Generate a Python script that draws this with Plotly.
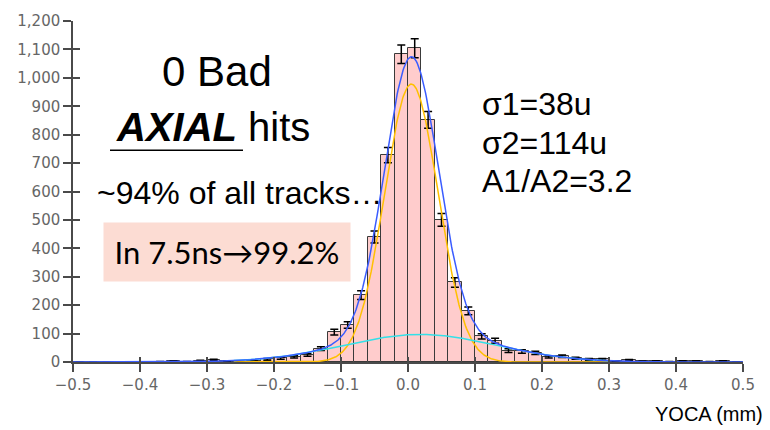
import numpy as np
import plotly.graph_objects as go

# ---------------- data ----------------
bin_width = 0.02
bin_left_edges = np.round(np.arange(-0.50, 0.50, 0.02), 2)
counts = [0, 0, 0, 0, 0, 0, 1, 3, 1, 4,
          7, 3, 1, 2, 9, 13, 18, 25, 47, 105,
          130, 235, 440, 728, 1083, 1104, 852, 500, 280, 180,
          90, 75, 40, 37, 32, 18, 20, 13, 9, 9,
          3, 6, 2, 3, 1, 3, 3, 1, 3, 0]
count_errors = np.sqrt(counts)

# double-Gaussian fit parameters
narrow_amp, narrow_mean, narrow_sigma = 978.0, 0.005, 0.040
wide_amp, wide_mean, wide_sigma = 97.0, 0.018, 0.114
component_range = (-0.26, 0.30)
x_range = (-0.5, 0.5)
y_range = (0, 1200)

x_ticks = [-0.5, -0.4, -0.3, -0.2, -0.1, 0.0, 0.1, 0.2, 0.3, 0.4, 0.5]
y_ticks = list(range(0, 1201, 100))

# ---------------- figure ----------------
W, H = 770, 430
ML, MR, MT, MB = 73, 27, 14, 68


def px(x):
    return (x - ML) / (W - ML - MR)


def py(y):
    return (H - MB - y) / (H - MT - MB)


def gauss(x, a, m, s):
    return a * np.exp(-0.5 * ((x - m) / s) ** 2)


centers = bin_left_edges + bin_width / 2
xf_full = np.linspace(x_range[0], x_range[1], 801)
xf_comp = np.linspace(component_range[0], component_range[1], 501)

fig = go.Figure()
fig.add_trace(go.Bar(
    x=centers, y=counts, width=bin_width,
    marker=dict(color="#ffcccc", line=dict(color="#3a3a3a", width=1)),
    error_y=dict(type="data", array=count_errors, color="black", thickness=1.5, width=4),
    showlegend=False, hoverinfo="skip"))
fig.add_trace(go.Scatter(
    x=xf_comp, y=gauss(xf_comp, narrow_amp, narrow_mean, narrow_sigma),
    mode="lines", line=dict(color="#ffc000", width=1.5), showlegend=False))
fig.add_trace(go.Scatter(
    x=xf_comp, y=gauss(xf_comp, wide_amp, wide_mean, wide_sigma),
    mode="lines", line=dict(color="#33e0e8", width=1.5), showlegend=False))
fig.add_trace(go.Scatter(
    x=xf_full,
    y=gauss(xf_full, narrow_amp, narrow_mean, narrow_sigma) + gauss(xf_full, wide_amp, wide_mean, wide_sigma),
    mode="lines", line=dict(color="#3a5cff", width=1.5), showlegend=False))
# invisible trace so the overlay axes (inner tick halves) get drawn
fig.add_trace(go.Scatter(x=[None], y=[None], xaxis="x2", yaxis="y2", showlegend=False))

axis_col = "#4a4a4a"
tick_font = dict(family="DejaVu Sans", size=15, color="#666666")
fig.update_layout(
    width=W, height=H,
    margin=dict(l=ML, r=MR, t=MT, b=MB),
    paper_bgcolor="white", plot_bgcolor="white",
    bargap=0,
    xaxis=dict(range=list(x_range), tickvals=x_ticks, tickformat=".1f",
               ticks="outside", ticklen=8, tickwidth=1.5, tickcolor=axis_col,
               showline=True, linecolor=axis_col, linewidth=1.5,
               showgrid=False, zeroline=False, tickfont=tick_font),
    yaxis=dict(range=list(y_range), tickvals=y_ticks, tickformat=",d",
               ticks="outside", ticklen=8, tickwidth=1.5, tickcolor=axis_col,
               showline=True, linecolor=axis_col, linewidth=1.5,
               showgrid=False, zeroline=False, tickfont=tick_font),
    xaxis2=dict(range=list(x_range), tickvals=x_ticks, overlaying="x", anchor="y",
                side="bottom", ticks="inside", ticklen=5, tickwidth=1.5, tickcolor=axis_col,
                showticklabels=False, showline=False, showgrid=False, zeroline=False),
    yaxis2=dict(range=list(y_range), tickvals=y_ticks, overlaying="y", anchor="x",
                side="left", ticks="inside", ticklen=7, tickwidth=1.5, tickcolor=axis_col,
                showticklabels=False, showline=False, showgrid=False, zeroline=False),
)

arial = "Liberation Sans, Arial"
anns = [
    dict(text="0 Bad", x=px(216.5), y=py(66), xanchor="center", yanchor="middle",
         font=dict(family=arial, size=42, color="black")),
    dict(text="<b><i>AXIAL</i></b> hits", x=px(213), y=py(122), xanchor="center", yanchor="middle",
         font=dict(family=arial, size=40, color="black")),
    dict(text="~94% of all tracks\u2026", x=px(239), y=py(190), xanchor="center", yanchor="middle",
         font=dict(family=arial, size=32, color="black")),
    dict(text="In 7.5ns\u219299.2%", x=px(227), y=py(250), xanchor="center", yanchor="middle",
         width=246, height=58, bgcolor="#fcdcd3", borderpad=0,
         font=dict(family="Lato", size=31, color="black")),
    dict(text="\u03c31=38u", x=px(480), y=py(99), xanchor="left", yanchor="middle",
         font=dict(family=arial, size=32, color="black")),
    dict(text="\u03c32=114u", x=px(480), y=py(138), xanchor="left", yanchor="middle",
         font=dict(family=arial, size=32, color="black")),
    dict(text="A1/A2=3.2", x=px(480), y=py(177), xanchor="left", yanchor="middle",
         font=dict(family=arial, size=32, color="black")),
    dict(text="YOCA (mm)", x=px(765), y=py(415), xanchor="right", yanchor="middle",
         font=dict(family=arial, size=20, color="black")),
]
for a in anns:
    a.update(xref="paper", yref="paper", showarrow=False)
fig.update_layout(annotations=anns)

fig.add_shape(type="line", xref="paper", yref="paper",
              x0=px(110), x1=px(243), y0=py(146), y1=py(146),
              line=dict(color="black", width=1.5))

fig.write_html("out.html", config={"displayModeBar": False},
               post_script="document.body.style.margin='0';document.body.style.overflow='hidden';")
